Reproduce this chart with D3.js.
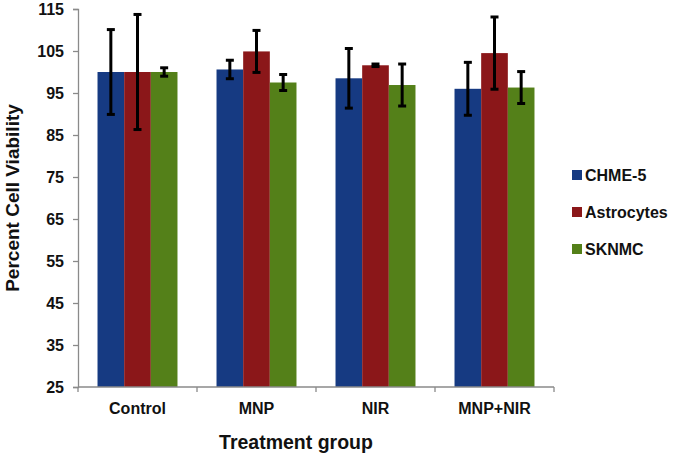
<!DOCTYPE html>
<html>
<head>
<meta charset="utf-8">
<script src="https://cdnjs.cloudflare.com/ajax/libs/d3/7.8.5/d3.min.js"></script>
<style>
  html, body { margin: 0; padding: 0; background: #fff; }
  svg { display: block; }
  text { font-family: "Liberation Sans", Arial, sans-serif; font-weight: bold; fill: #111; }
</style>
</head>
<body>
<svg id="chart" width="675" height="456"></svg>
<script>
const categories = ["Control", "MNP", "NIR", "MNP+NIR"];
const seriesNames = ["CHME-5", "Astrocytes", "SKNMC"];
const seriesColors = ["#163a82", "#8b1719", "#548019"];
const chme5 = [100, 100.6, 98.5, 96.0];
const chme5Err = [10.1, 2.2, 7.1, 6.3];
const astrocytes = [100, 104.9, 101.6, 104.5];
const astrocytesErr = [13.7, 5.0, 0.3, 8.6];
const sknmc = [100, 97.5, 96.9, 96.3];
const sknmcErr = [1.0, 1.9, 5.0, 3.8];
const yTicks = [25, 35, 45, 55, 65, 75, 85, 95, 105, 115];

(function () {
const values = [chme5, astrocytes, sknmc];
const errors = [chme5Err, astrocytesErr, sknmcErr];

const svg = d3.select("#chart");
const mLeft = 78, mRight = 554, mTop = 9, mBottom = 387;

const x0 = d3.scaleBand().domain(categories).range([mLeft, mRight]).paddingInner(0.328).paddingOuter(0.164);
const x1 = d3.scaleBand().domain(seriesNames).range([0, x0.bandwidth()]).padding(0);
const y = d3.scaleLinear().domain([25, 115]).range([mBottom, mTop]);

const data = [];
categories.forEach((c, ci) => {
  seriesNames.forEach((s, si) => {
    data.push({ c, s, si, v: values[si][ci], e: errors[si][ci] });
  });
});

svg.append("g").selectAll("rect").data(data).join("rect")
  .attr("x", d => x0(d.c) + x1(d.s))
  .attr("y", d => y(d.v))
  .attr("width", x1.bandwidth())
  .attr("height", d => y(25) - y(d.v))
  .attr("fill", d => seriesColors[d.si]);

const eg = svg.append("g").attr("stroke", "#000").attr("stroke-width", 3).attr("fill", "none");
data.forEach(d => {
  const cx = x0(d.c) + x1(d.s) + x1.bandwidth() / 2;
  const y1 = y(d.v + d.e), y2 = y(d.v - d.e);
  eg.append("line").attr("x1", cx).attr("x2", cx).attr("y1", y1).attr("y2", y2);
  eg.append("line").attr("x1", cx - 4).attr("x2", cx + 4).attr("y1", y1).attr("y2", y1);
  eg.append("line").attr("x1", cx - 4).attr("x2", cx + 4).attr("y1", y2).attr("y2", y2);
});

const yAxis = d3.axisLeft(y).tickValues(yTicks).tickSize(5).tickPadding(9).tickFormat(d3.format("d"));
const gy = svg.append("g").attr("transform", `translate(${mLeft},0)`).call(yAxis);
gy.select(".domain").attr("stroke", "#8a8a8a").attr("stroke-width", 1.3);
gy.selectAll(".tick line").attr("stroke", "#8a8a8a").attr("stroke-width", 1.3);
gy.selectAll(".tick text").style("font-size", "16px").style("font-family", "Liberation Sans, Arial, sans-serif").style("font-weight", "bold").attr("fill", "#111");

const gx = svg.append("g").attr("transform", `translate(0,${mBottom})`);
gx.append("line").attr("x1", mLeft).attr("x2", mRight).attr("y1", 0).attr("y2", 0)
  .attr("stroke", "#8a8a8a").attr("stroke-width", 1.3);
const boundaries = categories.map(c => x0(c) - x0.step() * x0.paddingInner() / 2).concat([mRight]);
gx.selectAll("line.tk").data(boundaries).join("line").attr("class", "tk")
  .attr("x1", d => d).attr("x2", d => d).attr("y1", 0).attr("y2", 5)
  .attr("stroke", "#8a8a8a").attr("stroke-width", 1.3);
gx.selectAll("text.cat").data(categories).join("text").attr("class", "cat")
  .attr("x", d => x0(d) + x0.bandwidth() / 2)
  .attr("y", 27)
  .attr("text-anchor", "middle")
  .style("font-size", "16px")
  .text(d => d);

svg.append("text")
  .attr("x", 296).attr("y", 449)
  .attr("text-anchor", "middle")
  .style("font-size", "19.5px")
  .text("Treatment group");

svg.append("text")
  .attr("transform", "translate(19,198) rotate(-90)")
  .attr("text-anchor", "middle")
  .style("font-size", "19px")
  .text("Percent Cell Viability");

const lg = svg.append("g");
seriesNames.forEach((s, i) => {
  const cy = 175 + i * 37;
  lg.append("rect").attr("x", 572).attr("y", cy - 5).attr("width", 10).attr("height", 10).attr("fill", seriesColors[i]);
  lg.append("text").attr("x", 585).attr("y", cy + 6).style("font-size", "16px").text(s);
});
})();
</script>
</body>
</html>
